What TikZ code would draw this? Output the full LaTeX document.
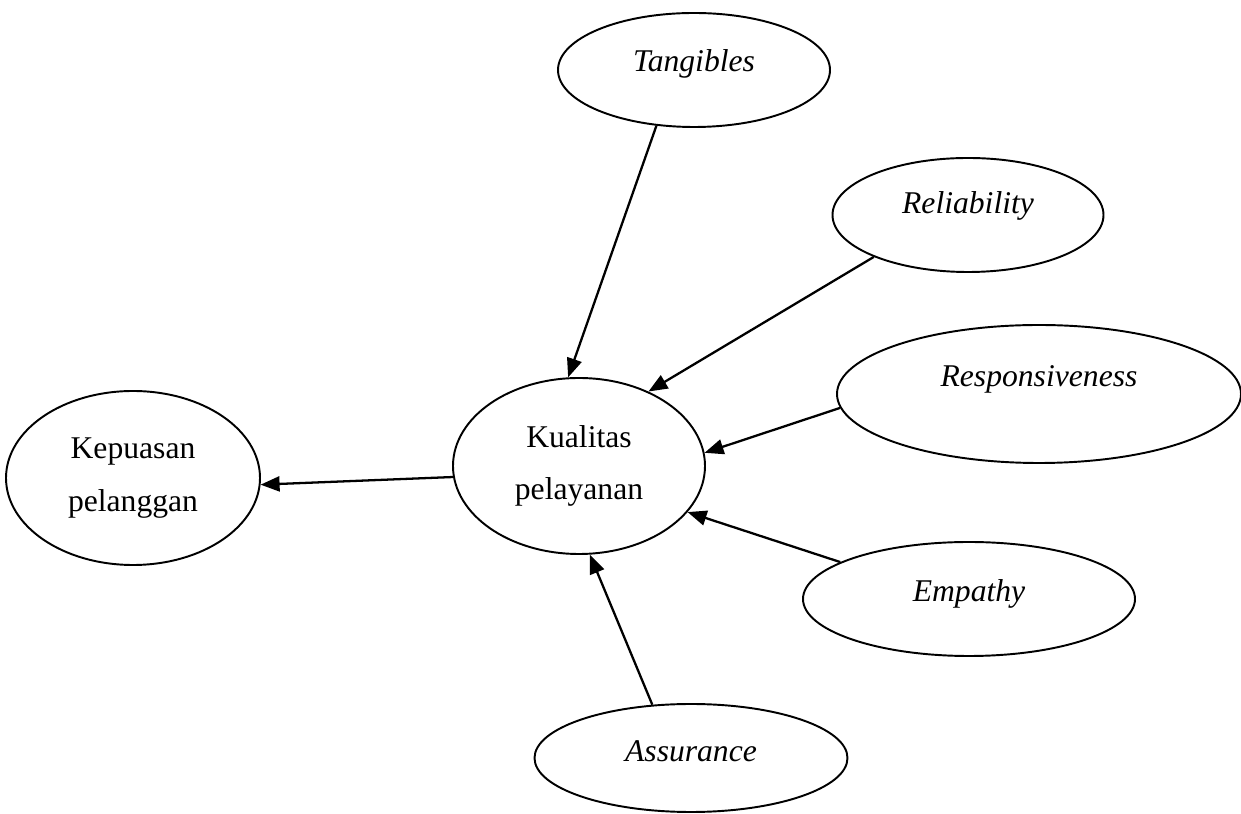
\documentclass[tikz,border=0pt]{standalone}
\usepackage{fontspec}
\setmainfont{Liberation Serif}
\usepackage{tikz}
\usetikzlibrary{positioning}
\usetikzlibrary{calc}
\usetikzlibrary{shapes.geometric}
\usetikzlibrary{arrows.meta}

\begin{document}
\begin{tikzpicture}[
    konstruk/.style={ellipse, draw, line width=1.1pt, inner sep=0pt, align=center, font=\fontsize{18}{30}\selectfont},
    dimensi/.style={konstruk, font=\fontsize{18}{22}\selectfont\itshape, text height=12.6pt},
    panah/.style={line width=1.3pt, -{Triangle[length=0.38cm, width=0.3cm]}}
]
    \useasboundingbox (0,0) rectangle (24.82,16.28);

    \node [konstruk, minimum width=5.04cm, minimum height=3.52cm] (kual) at (11.58,6.96) {Kualitas\\pelayanan};
    \node [konstruk, minimum width=5.08cm, minimum height=3.48cm] (kep) at ($(kual)+(-8.92,-0.24)$) {Kepuasan\\pelanggan};

    \node [dimensi, minimum width=5.44cm, minimum height=2.28cm, text depth=11.4pt] (tang) at ($(kual)+(2.30,7.92)$) {Tangibles};
    \node [dimensi, minimum width=5.42cm, minimum height=2.28cm, text depth=14.8pt] (rel) at ($(kual)+(7.78,5.02)$) {Reliability};
    \node [dimensi, minimum width=8.08cm, minimum height=2.76cm, text depth=21.6pt] (resp) at ($(kual)+(9.20,1.44)$) {Responsiveness};
    \node [dimensi, minimum width=6.64cm, minimum height=2.28cm, text depth=10.2pt] (emp) at ($(kual)+(7.80,-2.66)$) {Empathy};
    \node [dimensi, minimum width=6.26cm, minimum height=2.16cm, text depth=9.1pt] (ass) at ($(kual)+(2.24,-5.84)$) {Assurance};

    \draw [panah] (tang.236) -- (kual.97);
    \draw [panah] (rel.204) -- (kual.47);
    \draw [panah] (resp.184) -- (kual.6);
    \draw [panah] (emp.164) -- (kual.337);
    \draw [panah] (ass.126) -- (kual.277);
    \draw [panah] (kual.185) -- (kep.357);
\end{tikzpicture}
\end{document}
